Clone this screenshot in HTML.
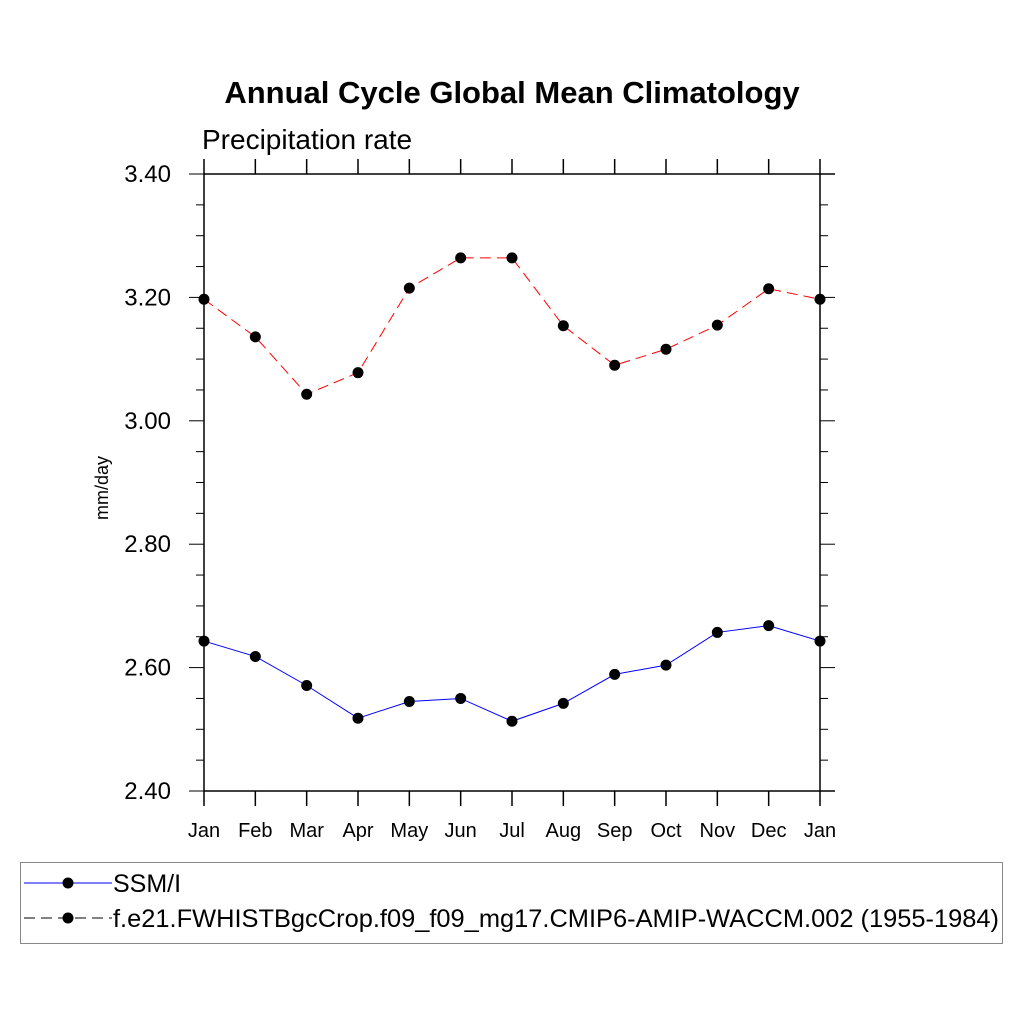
<!DOCTYPE html>
<html><head><meta charset="utf-8"><style>body{margin:0;background:#fff}svg{display:block;font-family:"Liberation Sans",sans-serif}</style></head>
<body>
<svg id="chart" width="1024" height="1024" xmlns="http://www.w3.org/2000/svg">
<rect width="1024" height="1024" fill="#fff"/>
<text x="512" y="103" text-anchor="middle" font-size="31" font-weight="bold">Annual Cycle Global Mean Climatology</text>
<text x="202" y="149" font-size="28">Precipitation rate</text>
<text transform="translate(108,488) rotate(-90)" text-anchor="middle" font-size="18">mm/day</text>
<g id="axes"></g><g id="series"></g>
<g>
<rect x="20.5" y="862.5" width="982" height="81" fill="none" stroke="#888" stroke-width="1"/>
<line x1="24" y1="883" x2="112" y2="883" stroke="#00f" stroke-width="1"/>
<circle cx="68" cy="883" r="5.5" fill="#000"/>
<text x="113" y="892" font-size="25">SSM/I</text>
<line x1="24" y1="918" x2="112" y2="918" stroke="#000" stroke-width="1" stroke-dasharray="11,6"/>
<circle cx="68" cy="918" r="5.5" fill="#000"/>
<text x="113" y="927" font-size="25" textLength="886" lengthAdjust="spacingAndGlyphs">f.e21.FWHISTBgcCrop.f09_f09_mg17.CMIP6-AMIP-WACCM.002 (1955-1984)</text>
</g>
</svg>
<script>
const months=["Jan","Feb","Mar","Apr","May","Jun","Jul","Aug","Sep","Oct","Nov","Dec","Jan"];
const obsValues=[2.643,2.618,2.571,2.518,2.545,2.550,2.513,2.542,2.589,2.604,2.657,2.668,2.643];
const modelValues=[3.197,3.136,3.043,3.078,3.215,3.264,3.264,3.154,3.090,3.116,3.155,3.214,3.197];
const yTicks=[2.40,2.60,2.80,3.00,3.20,3.40];
const NS="http://www.w3.org/2000/svg";
const X0=204,X1=820,XR=835,Y0=791,Y1=174;
const xs=i=>X0+(X1-X0)*i/12;
const ys=v=>Y0-(v-2.4)/1.0*(Y0-Y1);
function mk(t,a,p){const e=document.createElementNS(NS,t);for(const k in a)e.setAttribute(k,a[k]);p.appendChild(e);return e;}
const ax=document.getElementById('axes');
mk('line',{x1:X0,y1:Y1,x2:XR,y2:Y1,stroke:'#000','stroke-width':1.5},ax);
mk('line',{x1:X0,y1:Y0,x2:XR,y2:Y0,stroke:'#000','stroke-width':1.5},ax);
mk('line',{x1:X0,y1:Y1,x2:X0,y2:Y0,stroke:'#000','stroke-width':1.5},ax);
mk('line',{x1:X1,y1:Y1,x2:X1,y2:Y0,stroke:'#000','stroke-width':1.5},ax);
for(let i=0;i<months.length;i++){
 const x=xs(i);
 mk('line',{x1:x,y1:Y1,x2:x,y2:Y1-15,stroke:'#000','stroke-width':1.5},ax);
 mk('line',{x1:x,y1:Y0,x2:x,y2:Y0+15,stroke:'#000','stroke-width':1.5},ax);
 const t=mk('text',{x:x,y:837,'text-anchor':'middle','font-size':20},ax);
 
 
 t.textContent=months[i];
}
for(let v=2.4;v<=3.4001;v+=0.05){
 const y=ys(v);const maj=Math.abs(Math.round(v*5)-v*5)<1e-6;
 const L=maj?15:8;
 mk('line',{x1:X0-L,y1:y,x2:X0,y2:y,stroke:'#000','stroke-width':1},ax);
 mk('line',{x1:X1,y1:y,x2:X1+L,y2:y,stroke:'#000','stroke-width':1},ax);
}
yTicks.forEach(v=>{
 const t=mk('text',{x:171,y:ys(v)+8,'text-anchor':'end','font-size':24},ax);
 
 
 t.textContent=v.toFixed(2);
});
const sg=document.getElementById('series');
function series(vals,color,dash,name){
 const p=mk('polyline',{points:vals.map((v,i)=>xs(i)+','+ys(v)).join(' '),fill:'none',stroke:color,'stroke-width':1,'stroke-dasharray':dash},sg);
 
 
 vals.forEach((v,i)=>{
  const c=mk('circle',{cx:xs(i),cy:ys(v),r:5.5,fill:'#000'},sg);
  
  
 });
}
series(modelValues,'#f00','11,6','model');
series(obsValues,'#00f','none','ssmi');
</script>
</body></html>
